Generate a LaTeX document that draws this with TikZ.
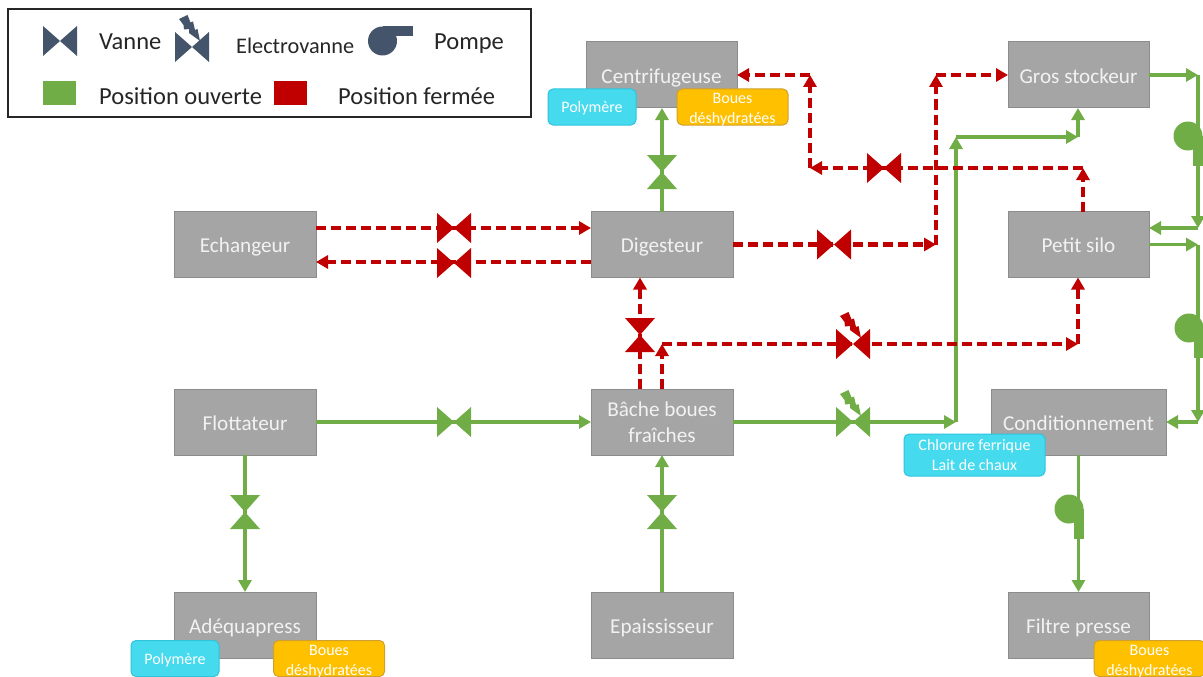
\documentclass[tikz,border=0pt]{standalone}
\usepackage{fontspec}
\setmainfont{Carlito}
\usetikzlibrary{arrows.meta,calc}
\definecolor{vgreen}{HTML}{70AD47}
\definecolor{vred}{HTML}{C00000}
\definecolor{vslate}{HTML}{44546A}
\definecolor{vgrey}{HTML}{A5A5A5}
\definecolor{vgreyline}{HTML}{8C8C8C}
\definecolor{vcyan}{HTML}{45DAEE}
\definecolor{vcyanline}{HTML}{2FC4DC}
\definecolor{vorange}{HTML}{FFC000}
\definecolor{vorangeline}{HTML}{CFA030}
\tikzset{
  unitbox/.style={draw=vgreyline,line width=1pt,fill=vgrey,text=white!95!black,
    minimum height=66pt,inner sep=0pt,outer sep=0pt,align=center,
    font=\fontsize{21.2}{26}\selectfont},
  unitline/.style={unitbox,text height=18pt,text depth=1.6pt},
  tagbox/.style={rounded corners=5pt,line width=1pt,minimum height=36pt,inner sep=0pt,
    outer sep=0pt,text=white,align=center,font=\fontsize{16}{20}\selectfont},
  addbox/.style={tagbox,draw=vcyanline,fill=vcyan},
  polybox/.style={addbox,minimum width=88pt,text height=14pt,text depth=3pt},
  sludgebox/.style={tagbox,draw=vorangeline,fill=vorange,minimum width=111pt,
    text height=33pt,text depth=0pt},
  legendtext/.style={anchor=base west,inner sep=0pt,text=black!85,font=\fontsize{24.5}{28}\selectfont},
  openflow/.style={draw=vgreen,line width=3.6pt,-{Triangle[length=12pt,width=13pt]}},
  closedflow/.style={draw=vred,line width=4.2pt,dash pattern=on 10pt off 5pt,
    -{Triangle[length=12pt,width=13pt]}},
  valve/.pic={\fill (-17,-15) -- (17,15) -- (17,-15) -- (-17,15) -- cycle;},
  bolt/.pic={\fill (-13,-28) -- (-4.5,-32) -- (-1.5,-24.5) -- (1,-25.5) -- (3,-17) -- (5.5,-18)
    -- (8,-6) -- (-3,-14) -- (-3,-18) -- (-8,-17.5) -- (-8.5,-22) -- cycle;},
  pump/.pic={\fill (0,0) circle [radius=14.5];
    \fill (0,-15) rectangle (30,-4.5);},
}
\begin{document}
\begin{tikzpicture}[x=1pt,y=-1pt]
\useasboundingbox (0,0) rectangle (1203,677);
% Legend outline
  \node[draw=black!85,line width=1.3pt,fill=white,minimum width=523pt,minimum height=108pt,
    inner sep=0pt,outer sep=0pt] (legend) at (269.5,63) {};
% Legend symbols
  \pic[color=vslate] at (60,41) {valve};
  \pic[color=vslate] at (192,47) {valve};
  \pic[color=vslate] at (192,47) {bolt};
  \pic[color=vslate] at (382.5,41) {pump};
  \node[fill=vgreen,minimum width=33pt,minimum height=24pt,inner sep=0pt] (opensq) at (59.5,93) {};
  \node[fill=vred,minimum width=33pt,minimum height=24pt,inner sep=0pt] (closedsq) at (290.5,93) {};
% Legend texts
  \node[legendtext] (vanne) at (99,50) {Vanne};
  \node[legendtext,font=\fontsize{22.3}{26}\selectfont] (electro) at (236,54) {Electrovanne};
  \node[legendtext] (pompe) at (434,49.5) {Pompe};
  \node[legendtext] (ouverte) at (99,104) {Position ouverte};
  \node[legendtext] (fermee) at (338,104) {Position fermée};

% Process units
  \node[unitline,minimum width=151pt] (centri) at (661.5,75) {Centrifugeuse};
  \node[unitline,minimum width=141pt] (gros) at (1078.5,75) {Gros stockeur};
  \node[unitline,minimum width=142pt] (echangeur) at (245,244.5) {Echangeur};
  \node[unitline,minimum width=142pt] (digesteur) at (662,244.5) {Digesteur};
  \node[unitline,minimum width=141pt] (silo) at (1078.5,244.5) {Petit silo};
  \node[unitline,minimum width=142pt] (flotta) at (245,422) {Flottateur};
  \node[unitbox,minimum width=142pt] (bache) at (662,422) {Bâche boues\\fraîches};
  \node[unitline,minimum width=175pt] (condi) at (1078.5,422) {Conditionnement};
  \node[unitline,minimum width=142pt] (adequa) at (245,625) {Adéquapress};
  \node[unitline,minimum width=142pt] (epaiss) at (662,625) {Epaississeur};
  \node[unitline,minimum width=141pt] (filtre) at (1078.5,625) {Filtre presse};

% Corners of the pipes
  \coordinate (dg1) at (936,244.5);
  \coordinate (dg2) at (936,75);
  \coordinate (sc1) at (1083,168);
  \coordinate (sc2) at (810,168);
  \coordinate (sc3) at (810,75);
  \coordinate (bs1) at (662,344);
  \coordinate (bs2) at (1078,344);
  \coordinate (bg1) at (956,422);
  \coordinate (bg2) at (956,137);
  \coordinate (bg3) at (1078,137);
  \coordinate (gs1) at (1198,75);
  \coordinate (gs2) at (1198,228);
  \coordinate (gs3) at (1149,228);
  \coordinate (sc4) at (1198,244.5);
  \coordinate (sc5) at (1198,422);

% Open pipes
  \draw[openflow] (digesteur.north) -- (centri.south -| digesteur.north);
  \draw[openflow] (flotta) -- (bache) ;
  \draw[openflow] (flotta) -- (adequa);
  \draw[openflow] (epaiss) -- (bache);
% Bache to gros stockeur
  \draw[openflow] (bache) -- (bg1);
  \draw[openflow] (bg1) -- (bg2);
  \draw[openflow] (bg2) -- (bg3);
  \draw[openflow] (bg3) -- (gros.south -| bg3);
% Gros stockeur to petit silo
  \draw[openflow] (gros) -- (gs1);
  \draw[openflow] (gs1) -- (gs2);
  \draw[openflow] (gs2) -- (gs3);
% Petit silo to conditionnement
  \draw[openflow] (silo) -- (sc4);
  \draw[openflow] (sc4) -- (sc5);
  \draw[openflow] (sc5) -- (condi);
  \draw[openflow] (condi) -- (filtre);

% Closed pipes
  \draw[closedflow] ([yshift=16.5]echangeur.east) -- ([yshift=16.5]digesteur.west);
  \draw[closedflow] ([yshift=-17.5]digesteur.west) -- ([yshift=-17.5]echangeur.east);
% Digesteur to gros stockeur
  \draw[closedflow] (digesteur) -- (dg1);
  \draw[closedflow] (dg1) -- (dg2);
  \draw[closedflow] (dg2) -- (gros);
% Petit silo to centrifugeuse
  \draw[closedflow] (silo.north -| sc1) -- (sc1);
  \draw[closedflow] (sc1) -- (sc2);
  \draw[closedflow] (sc2) -- (sc3);
  \draw[closedflow] (sc3) -- (centri);
% Bache to digesteur and petit silo
  \draw[closedflow] ([xshift=-22]bache.north) -- ([xshift=-22]digesteur.south);
  \draw[closedflow] (bache.north) -- (bs1);
  \draw[closedflow] (bs1) -- (bs2);
  \draw[closedflow] (bs2) -- (silo.south -| bs2);

% Valves
  \pic[color=vgreen,rotate=90] at (662,172) {valve};
  \pic[color=vgreen] at (454,422) {valve};
  \pic[color=vgreen,rotate=90] at (245,512) {valve};
  \pic[color=vgreen,rotate=90] at (662,512) {valve};
  \pic[color=vred] at (454,228) {valve};
  \pic[color=vred] at (454,263) {valve};
  \pic[color=vred] at (834,244.5) {valve};
  \pic[color=vred] at (884,168) {valve};
  \pic[color=vred,rotate=90] at (640,335) {valve};
% Electrovalves
  \pic[color=vred] at (853,344) {valve};
  \pic[color=vred] at (853,344) {bolt};
  \pic[color=vgreen] at (853,422) {valve};
  \pic[color=vgreen] at (853,422) {bolt};
% Pumps
  \pic[color=vgreen,rotate=-90] at (1188,136) {pump};
  \pic[color=vgreen,rotate=-90] at (1189,328) {pump};
  \pic[color=vgreen,rotate=-90] at (1069,509) {pump};

% Additives and outlets
  \node[polybox] (polytop) at (592,107) {Polymère};
  \node[sludgebox] (bouestop) at (732.5,107) {Boues\\déshydratées};
  \node[addbox,minimum width=141pt,minimum height=42pt] (chlorure) at (974.5,455) {Chlorure ferrique\\Lait de chaux};
  \node[polybox] (polybot) at (175,658.5) {Polymère};
  \node[sludgebox] (bouesbot) at (329,658.5) {Boues\\déshydratées};
  \node[sludgebox] (bouesfil) at (1149.5,658.5) {Boues\\déshydratées};
\end{tikzpicture}
\end{document}
